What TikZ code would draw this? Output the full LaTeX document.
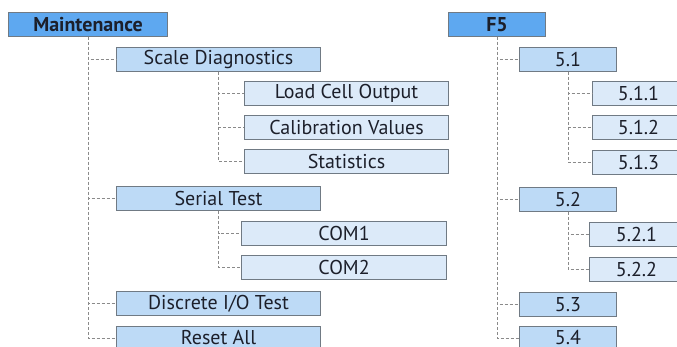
\documentclass[tikz,border=0pt]{standalone}
\usepackage{fontspec}
\setmainfont{PT Sans}
\definecolor{rootblue}{HTML}{5EA8F0}
\definecolor{midblue}{HTML}{BDDAF6}
\definecolor{lightblue}{HTML}{DCEAF9}
\definecolor{boxline}{HTML}{707A84}
\definecolor{connline}{HTML}{8A8A8A}
\definecolor{txt}{HTML}{1C1F2A}
\begin{document}
\begin{tikzpicture}[x=1pt,y=-1pt,
  box/.style={draw=boxline,line width=1pt,anchor=north west,inner sep=0pt,
    minimum height=24pt,text=txt,font=\fontsize{20}{22}\selectfont},
  rootbox/.style={box,fill=rootblue,font=\fontsize{20}{22}\selectfont\bfseries},
  midbox/.style={box,fill=midblue},
  leafbox/.style={box,fill=lightblue},
  conn/.style={draw=connline,line width=0.9pt,dash pattern=on 3pt off 2pt}]
\useasboundingbox (0,0) rectangle (677,347);
\clip (0,0) rectangle (677,347);
% left tree
\node[rootbox,minimum width=159pt] (mt) at (8,12) {Maintenance};
\node[midbox,minimum width=204pt] (sd) at (116,47) {Scale Diagnostics};
\node[leafbox,minimum width=204pt] (lc) at (244,81) {Load Cell Output};
\node[leafbox,minimum width=204pt] (cv) at (244,115) {Calibration Values};
\node[leafbox,minimum width=204pt] (st) at (244,149) {Statistics};
\node[midbox,minimum width=204pt] (se) at (116,186) {Serial Test};
\node[leafbox,minimum width=205pt] (c1) at (241,221) {COM1};
\node[leafbox,minimum width=205pt] (c2) at (241,255) {COM2};
\node[midbox,minimum width=204pt] (di) at (116,291) {Discrete I/O Test};
\node[midbox,minimum width=204pt] (ra) at (116,326) {\raisebox{3pt}{Reset All}};
% right tree
\node[rootbox,minimum width=97pt] (f5) at (448,12) {F5};
\node[midbox,minimum width=97pt] (a1) at (519,47) {5.1};
\node[leafbox,minimum width=92pt] (a11) at (592,81) {5.1.1};
\node[leafbox,minimum width=92pt] (a12) at (592,115) {5.1.2};
\node[leafbox,minimum width=92pt] (a13) at (592,150) {5.1.3};
\node[midbox,minimum width=97pt] (a2) at (519,187) {5.2};
\node[leafbox,minimum width=94pt] (a21) at (589,222) {5.2.1};
\node[leafbox,minimum width=94pt] (a22) at (589,257) {5.2.2};
\node[midbox,minimum width=97pt] (a3) at (519,292) {5.3};
\node[midbox,minimum width=97pt] (a4) at (519,326) {\raisebox{3pt}{5.4}};
% connectors
\foreach \p/\c in {mt/sd,mt/se,mt/di,mt/ra,sd/lc,sd/cv,sd/st,se/c1,se/c2,
  f5/a1,f5/a2,f5/a3,f5/a4,a1/a11,a1/a12,a1/a13,a2/a21,a2/a22}
  \draw[conn] (\p.south) |- (\c.west);
\end{tikzpicture}
\end{document}
